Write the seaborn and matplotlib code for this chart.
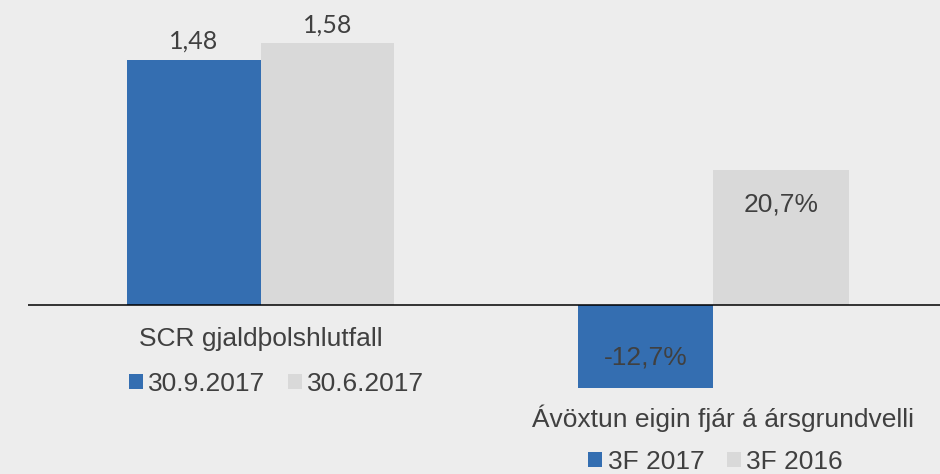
import matplotlib
matplotlib.use("Agg")
import matplotlib.pyplot as plt
import matplotlib.transforms as mtransforms
from matplotlib.patches import Patch
import pandas as pd
import seaborn as sns

# ---- data -------------------------------------------------------------------
SCR_CAT = "SCR gjaldþolshlutfall"
SCR_SERIES = ["30.9.2017", "30.6.2017"]
SCR_VALUES = [1.48, 1.58]
SCR_LABELS = ["1,48", "1,58"]

ROE_CAT = "Ávöxtun eigin fjár á ársgrundvelli"
ROE_SERIES = ["3F 2017", "3F 2016"]
ROE_VALUES = [-12.7, 20.7]
ROE_LABELS = ["-12,7%", "20,7%"]

BLUE, GREY = "#346EB1", "#D9D9D9"
BG, TXT = "#EDEDED", "#404040"

sns.set_theme(style="white")
plt.rcParams["font.family"] = ["Liberation Sans", "DejaVu Sans"]
plt.rcParams["text.color"] = TXT

W, H = 940, 474
fig = plt.figure(figsize=(W / 100, H / 100), dpi=100, facecolor=BG)
# pixel-based axes: left panel and right panel share the zero line at y=305px
ax1 = fig.add_axes([28 / W, 0, (470 - 28) / W, 1])
ax2 = fig.add_axes([470 / W, 0, 470 / W, 1])


def panel(ax, cat, series, values, xlim, ylim):
    df = pd.DataFrame({"cat": [cat] * len(values), "series": series, "value": values})
    sns.barplot(data=df, x="cat", y="value", hue="series", hue_order=series,
                palette=[BLUE, GREY], saturation=1, width=0.8, legend=False,
                edgecolor="none", linewidth=0, ax=ax)
    ax.set_xlim(*xlim); ax.set_ylim(*ylim)
    ax.set_facecolor("none")
    for s in ax.spines.values():
        s.set_visible(False)
    ax.set_xticks([]); ax.set_yticks([])
    ax.set_xlabel(""); ax.set_ylabel("")
    ax.axhline(0, color="black", lw=1.1, zorder=5)


panel(ax1, SCR_CAT, SCR_SERIES, SCR_VALUES, (-0.697, 0.628), (-1.020, 1.841))
panel(ax2, ROE_CAT, ROE_SERIES, ROE_VALUES, (-0.719, 0.669), (-25.8, 46.6))

# value labels
for cont, lab in zip(ax1.containers, SCR_LABELS):
    ax1.bar_label(cont, labels=[lab], padding=5, fontsize=18,
                  family=["Lato", "DejaVu Sans"], color=TXT)

for cont, lab in zip(ax2.containers, ROE_LABELS):
    bar = cont.patches[0]
    end = bar.get_y() + bar.get_height()
    off = -25 if end >= 0 else 22
    ax2.annotate(lab, (bar.get_x() + bar.get_width() / 2, end),
                 xytext=(0, off), textcoords="offset points",
                 ha="center", va="center", fontsize=19, color=TXT)

# category labels
t1 = mtransforms.blended_transform_factory(ax1.transData, ax1.transAxes)
ax1.text(0, 1 - 346 / H, SCR_CAT, transform=t1, ha="center", va="baseline",
         fontsize=19, color=TXT)
t2 = mtransforms.blended_transform_factory(ax2.transData, ax2.transAxes)
ax2.text(0.027, 1 - 427 / H, ROE_CAT, transform=t2, ha="center", va="baseline",
         fontsize=19, color=TXT)

# legends, one under each group
def legend(series, xy):
    handles = [Patch(facecolor=c, edgecolor="none", label=s)
               for c, s in zip([BLUE, GREY], series)]
    fig.legend(handles=handles, loc="center", bbox_to_anchor=(xy[0] / W, 1 - xy[1] / H),
               ncol=2, frameon=False, fontsize=19, handlelength=0.53,
               handleheight=0.53, handletextpad=0.2, columnspacing=0.85,
               borderpad=0, borderaxespad=0, labelcolor=TXT)

legend(SCR_SERIES, (276.5, 384))
legend(ROE_SERIES, (715.5, 462))

fig.savefig("out.png", dpi=100, facecolor=BG)
